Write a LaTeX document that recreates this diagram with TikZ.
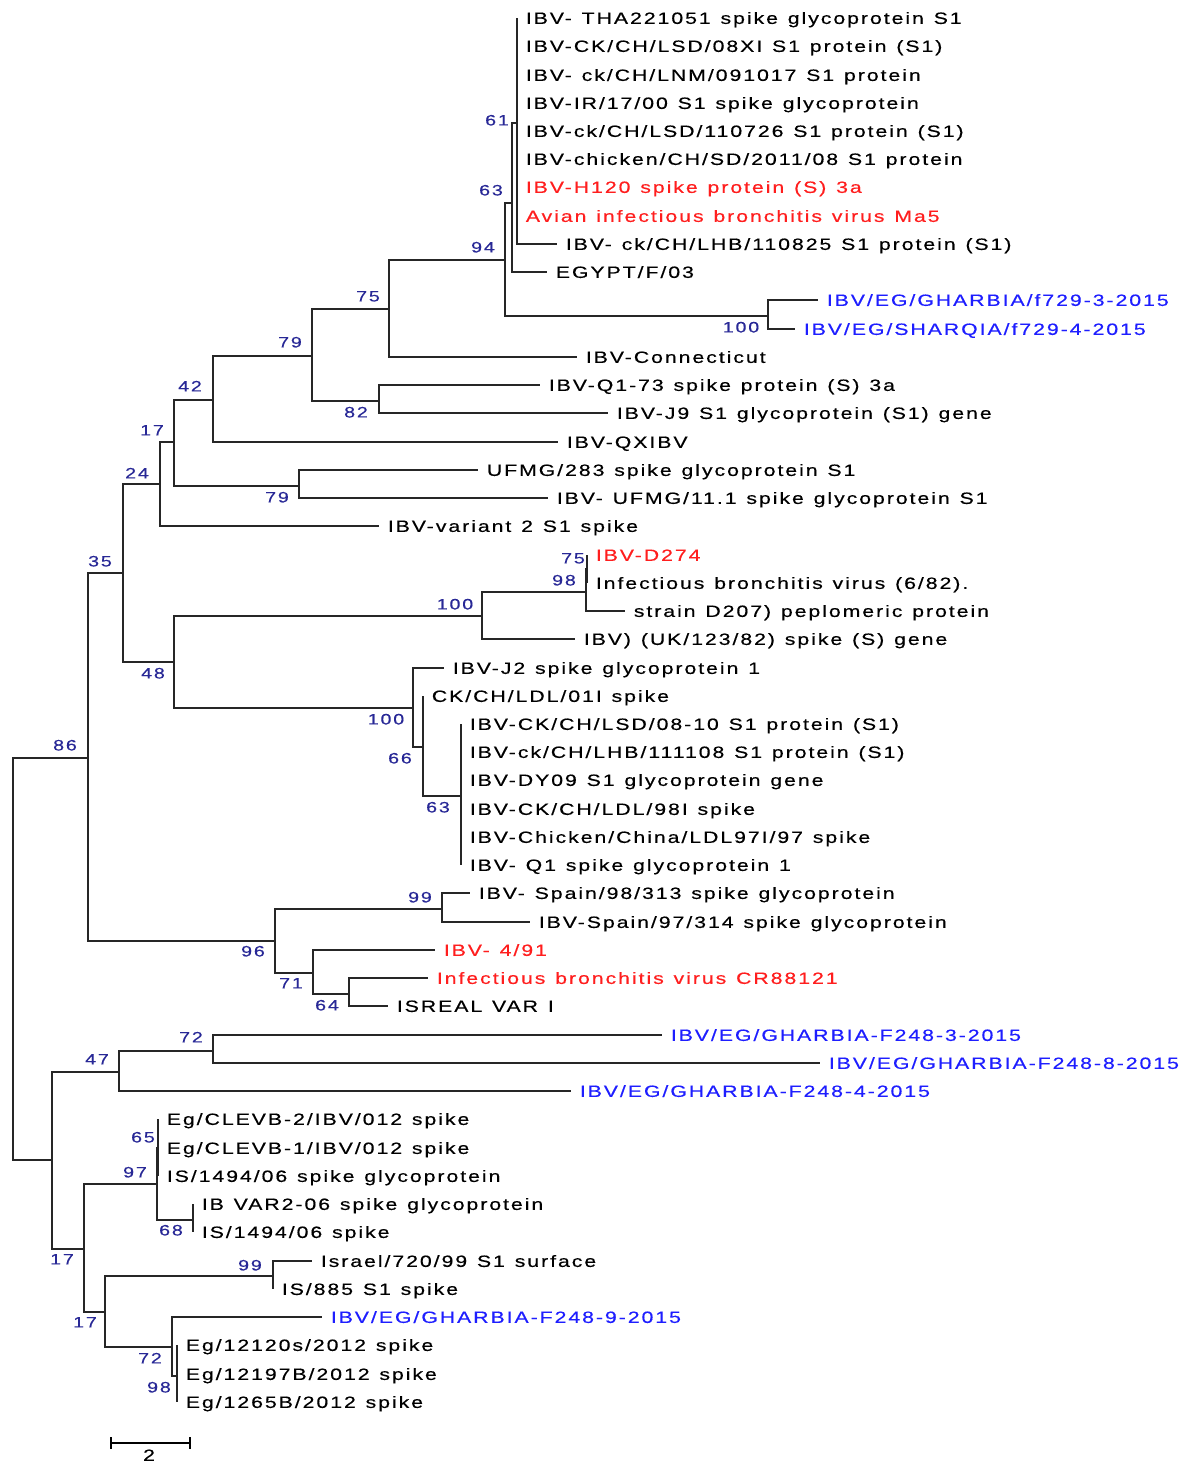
\documentclass[tikz,border=0pt]{standalone}
\usepackage{fontspec}
\setmainfont{Liberation Sans}[FakeStretch=1.3,LetterSpace=12,WordSpace=1.25,FakeBold=0.4]
\usepackage{xcolor}

\definecolor{bootblue}{RGB}{40,40,150}
\definecolor{taxblue}{RGB}{30,30,255}
\definecolor{taxred}{RGB}{255,30,30}

\tikzset{
  leaf/.style={anchor=west, inner xsep=0.17cm, inner ysep=0pt, text height=6.7pt, text depth=0pt,
    font=\fontsize{9.3}{11}\selectfont},
  boot/.style={text=bootblue, inner sep=0pt, text height=6.2pt, text depth=0pt,
    font=\fontsize{8.6}{10}\selectfont},
  branch/.style={draw=black!85, line width=0.7pt},
}

\begin{document}
\begin{tikzpicture}[x=0.02cm, y=-0.02cm]
\useasboundingbox (0,0) rectangle (1192,1463);

% inner nodes of the tree
\coordinate (root) at (13,958);
\coordinate (nT) at (88,758);
\coordinate (nL) at (123,573);
\coordinate (nK) at (160,484);
\coordinate (nI) at (174,442);
\coordinate (nH) at (213,400);
\coordinate (nF) at (312,356);
\coordinate (nD) at (389,309);
\coordinate (nC) at (505,260);
\coordinate (nB) at (512,203);
\coordinate (nA) at (517,123);
\coordinate (nE) at (768,316);
\coordinate (nG) at (379,401);
\coordinate (nJ) at (299,486);
\coordinate (nM) at (174,662);
\coordinate (nN) at (482,616);
\coordinate (nO) at (586,592);
\coordinate (nP) at (587,569);
\coordinate (nQ) at (413,708);
\coordinate (nR) at (423,747);
\coordinate (nS) at (461,796);
\coordinate (nU) at (275,941);
\coordinate (nV) at (442,909);
\coordinate (nW) at (313,973);
\coordinate (nX) at (349,994);
\coordinate (nY) at (52,1160);
\coordinate (nZ) at (119,1072);
\coordinate (nAA) at (213,1051);
\coordinate (nAB) at (84,1249);
\coordinate (nAC) at (157,1184);
\coordinate (nAC2) at (158,1148);
\coordinate (nAD) at (193,1220);
\coordinate (nAE) at (105,1312);
\coordinate (nAF) at (273,1276);
\coordinate (nAG) at (172,1347);
\coordinate (nAH) at (177,1376);

% taxa
\node[leaf] (l1) at (517,18) {IBV- THA221051 spike glycoprotein S1};
\node[leaf] (l2) at (517,46) {IBV-CK/CH/LSD/08XI S1 protein (S1)};
\node[leaf] (l3) at (517,75) {IBV- ck/CH/LNM/091017 S1 protein};
\node[leaf] (l4) at (517,103) {IBV-IR/17/00 S1 spike glycoprotein};
\node[leaf] (l5) at (517,131) {IBV-ck/CH/LSD/110726 S1 protein (S1)};
\node[leaf] (l6) at (517,159) {IBV-chicken/CH/SD/2011/08 S1 protein};
\node[leaf, text=taxred] (l7) at (517,187) {IBV-H120 spike protein (S) 3a};
\node[leaf, text=taxred] (l8) at (517,216) {Avian infectious bronchitis virus Ma5};
\node[leaf] (l9) at (557,244) {IBV- ck/CH/LHB/110825 S1 protein (S1)};
\node[leaf] (l10) at (547,272) {EGYPT/F/03};
\node[leaf, text=taxblue] (l11) at (818,300) {IBV/EG/GHARBIA/f729-3-2015};
\node[leaf, text=taxblue] (l12) at (795,329) {IBV/EG/SHARQIA/f729-4-2015};
\node[leaf] (l13) at (577,357) {IBV-Connecticut};
\node[leaf] (l14) at (540,385) {IBV-Q1-73 spike protein (S) 3a};
\node[leaf] (l15) at (608,413) {IBV-J9 S1 glycoprotein (S1) gene};
\node[leaf] (l16) at (558,442) {IBV-QXIBV};
\node[leaf] (l17) at (478,470) {UFMG/283 spike glycoprotein S1};
\node[leaf] (l18) at (548,498) {IBV- UFMG/11.1 spike glycoprotein S1};
\node[leaf] (l19) at (379,526) {IBV-variant 2 S1 spike};
\node[leaf, text=taxred] (l20) at (587,555) {IBV-D274};
\node[leaf] (l21) at (587,583) {Infectious bronchitis virus (6/82).};
\node[leaf] (l22) at (625,611) {strain D207) peplomeric protein};
\node[leaf] (l23) at (575,639) {IBV) (UK/123/82) spike (S) gene};
\node[leaf] (l24) at (444,668) {IBV-J2 spike glycoprotein 1};
\node[leaf] (l25) at (423,696) {CK/CH/LDL/01I spike};
\node[leaf] (l26) at (461,724) {IBV-CK/CH/LSD/08-10 S1 protein (S1)};
\node[leaf] (l27) at (461,752) {IBV-ck/CH/LHB/111108 S1 protein (S1)};
\node[leaf] (l28) at (461,780) {IBV-DY09 S1 glycoprotein gene};
\node[leaf] (l29) at (461,809) {IBV-CK/CH/LDL/98I spike};
\node[leaf] (l30) at (461,837) {IBV-Chicken/China/LDL97I/97 spike};
\node[leaf] (l31) at (461,865) {IBV- Q1 spike glycoprotein 1};
\node[leaf] (l32) at (470,893) {IBV- Spain/98/313 spike glycoprotein};
\node[leaf] (l33) at (530,922) {IBV-Spain/97/314 spike glycoprotein};
\node[leaf, text=taxred] (l34) at (435,950) {IBV- 4/91};
\node[leaf, text=taxred] (l35) at (428,978) {Infectious bronchitis virus CR88121};
\node[leaf] (l36) at (388,1006) {ISREAL VAR I};
\node[leaf, text=taxblue] (l37) at (662,1035) {IBV/EG/GHARBIA-F248-3-2015};
\node[leaf, text=taxblue] (l38) at (820,1063) {IBV/EG/GHARBIA-F248-8-2015};
\node[leaf, text=taxblue] (l39) at (571,1091) {IBV/EG/GHARBIA-F248-4-2015};
\node[leaf] (l40) at (158,1119) {Eg/CLEVB-2/IBV/012 spike};
\node[leaf] (l41) at (158,1148) {Eg/CLEVB-1/IBV/012 spike};
\node[leaf] (l42) at (158,1176) {IS/1494/06 spike glycoprotein};
\node[leaf] (l43) at (193,1204) {IB VAR2-06 spike glycoprotein};
\node[leaf] (l44) at (193,1232) {IS/1494/06 spike};
\node[leaf] (l45) at (312,1261) {Israel/720/99 S1 surface};
\node[leaf] (l46) at (273,1289) {IS/885 S1 spike};
\node[leaf, text=taxblue] (l47) at (322,1317) {IBV/EG/GHARBIA-F248-9-2015};
\node[leaf] (l48) at (177,1345) {Eg/12120s/2012 spike};
\node[leaf] (l49) at (177,1374) {Eg/12197B/2012 spike};
\node[leaf] (l50) at (177,1402) {Eg/1265B/2012 spike};

% branches
\draw[branch] (root) |- (nT);
\draw[branch] (root) |- (nY);
\draw[branch] (nT) |- (nL);
\draw[branch] (nT) |- (nU);
\draw[branch] (nL) |- (nK);
\draw[branch] (nL) |- (nM);
\draw[branch] (nK) |- (nI);
\draw[branch] (nK) |- (l19.west);
\draw[branch] (nI) |- (nH);
\draw[branch] (nI) |- (nJ);
\draw[branch] (nH) |- (nF);
\draw[branch] (nH) |- (l16.west);
\draw[branch] (nF) |- (nD);
\draw[branch] (nF) |- (nG);
\draw[branch] (nD) |- (nC);
\draw[branch] (nD) |- (l13.west);
\draw[branch] (nC) |- (nB);
\draw[branch] (nC) |- (nE);
\draw[branch] (nB) |- (nA);
\draw[branch] (nB) |- (l10.west);
\foreach \i in {1,...,9} \draw[branch] (nA) |- (l\i.west);
\draw[branch] (nE) |- (l11.west);
\draw[branch] (nE) |- (l12.west);
\draw[branch] (nG) |- (l14.west);
\draw[branch] (nG) |- (l15.west);
\draw[branch] (nJ) |- (l17.west);
\draw[branch] (nJ) |- (l18.west);
\draw[branch] (nM) |- (nN);
\draw[branch] (nM) |- (nQ);
\draw[branch] (nN) |- (nO);
\draw[branch] (nN) |- (l23.west);
\draw[branch] (nO) |- (nP);
\draw[branch] (nO) |- (l22.west);
\draw[branch] (nP) |- (l20.west);
\draw[branch] (nP) |- (l21.west);
\draw[branch] (nQ) |- (l24.west);
\draw[branch] (nQ) |- (nR);
\draw[branch] (nR) |- (l25.west);
\draw[branch] (nR) |- (nS);
\foreach \i in {26,...,31} \draw[branch] (nS) |- (l\i.west);
\draw[branch] (nU) |- (nV);
\draw[branch] (nU) |- (nW);
\draw[branch] (nV) |- (l32.west);
\draw[branch] (nV) |- (l33.west);
\draw[branch] (nW) |- (l34.west);
\draw[branch] (nW) |- (nX);
\draw[branch] (nX) |- (l35.west);
\draw[branch] (nX) |- (l36.west);
\draw[branch] (nY) |- (nZ);
\draw[branch] (nY) |- (nAB);
\draw[branch] (nZ) |- (nAA);
\draw[branch] (nZ) |- (l39.west);
\draw[branch] (nAA) |- (l37.west);
\draw[branch] (nAA) |- (l38.west);
\draw[branch] (nAB) |- (nAC);
\draw[branch] (nAB) |- (nAE);
\draw[branch] (nAC) |- (nAC2);
\draw[branch] (nAC) |- (nAD);
\foreach \i in {40,41,42} \draw[branch] (nAC2) |- (l\i.west);
\draw[branch] (nAD) |- (l43.west);
\draw[branch] (nAD) |- (l44.west);
\draw[branch] (nAE) |- (nAF);
\draw[branch] (nAE) |- (nAG);
\draw[branch] (nAF) |- (l45.west);
\draw[branch] (nAF) |- (l46.west);
\draw[branch] (nAG) |- (l47.west);
\draw[branch] (nAG) |- (nAH);
\foreach \i in {48,49,50} \draw[branch] (nAH) |- (l\i.west);

% bootstrap values
\foreach \x/\y/\v [count=\i] in {497/120/61, 491/190/63, 483/247/94, 741/327/100,
  368/296/75, 290/342/79, 356/412/82, 190/386/42, 152/430/17, 277/497/79,
  137/473/24, 100/561/35, 573/558/75, 564/580/98, 455/604/100, 153/673/48,
  386/719/100, 400/758/66, 438/807/63, 65/745/86, 420/897/99, 253/951/96,
  291/983/71, 327/1005/64, 191/1037/72, 97/1059/47, 143/1137/65, 135/1172/97,
  171/1230/68, 62/1259/17, 250/1265/99, 85/1322/17, 150/1358/72, 159/1387/98}
  \node[boot] (b\i) at (\x,\y) {\v};

% scale bar
\coordinate (sbL) at (111,1443);
\coordinate (sbR) at (190,1443);
\draw[line width=1.6pt] (sbL) -- (sbR);
\draw[line width=1.6pt] ([yshift=0.12cm]sbL) -- ([yshift=-0.12cm]sbL);
\draw[line width=1.6pt] ([yshift=0.12cm]sbR) -- ([yshift=-0.12cm]sbR);
\node[font=\fontsize{9.3}{11}\selectfont, inner sep=0pt, text height=6.7pt, text depth=0pt] (sblab) at (149,1455) {2};
\end{tikzpicture}
\end{document}
